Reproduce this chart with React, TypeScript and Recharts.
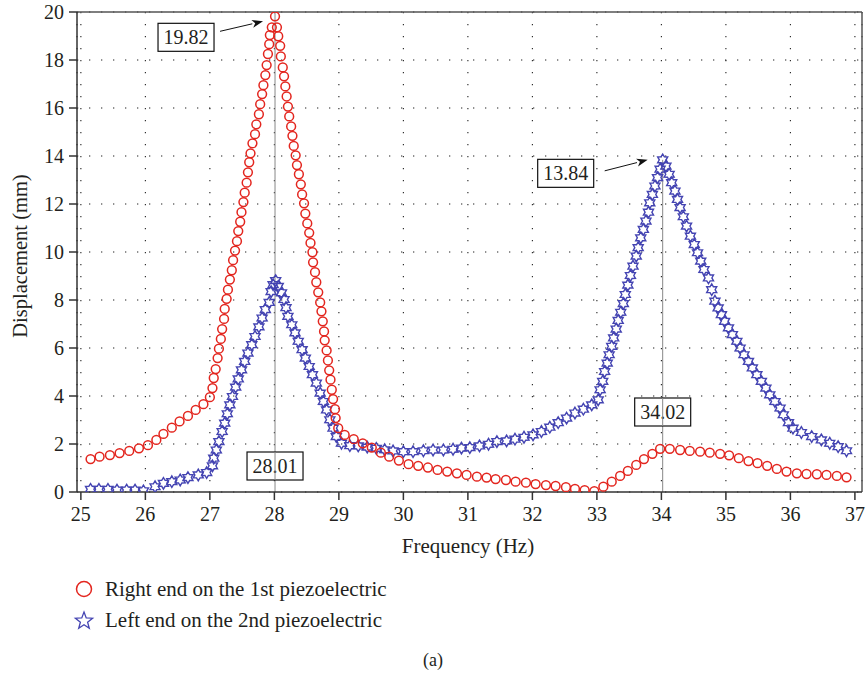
import React from "react";
import {
  CartesianGrid,
  ReferenceDot,
  ReferenceLine,
  Scatter,
  ScatterChart,
  XAxis,
  YAxis,
} from "recharts";

// Right end on the 1st piezoelectric (red circles)
const rightFreq = [
  25.15, 25.29, 25.45, 25.6, 25.75, 25.9, 26.04, 26.17, 26.28, 26.41, 26.53, 26.66, 26.78, 26.9, 27.0,
  27.04, 27.06, 27.09, 27.12, 27.14, 27.17, 27.19, 27.22, 27.23, 27.26, 27.28, 27.31, 27.34, 27.36, 27.39,
  27.42, 27.44, 27.47, 27.49, 27.52, 27.54, 27.57, 27.59, 27.61, 27.63, 27.66, 27.7, 27.72, 27.76, 27.78,
  27.81, 27.83, 27.86, 27.88, 27.9, 27.92, 27.93, 27.96, 28.01, 28.04, 28.06, 28.09, 28.1, 28.13, 28.15,
  28.17, 28.19, 28.21, 28.23, 28.26, 28.28, 28.3, 28.33, 28.35, 28.38, 28.41, 28.43, 28.46, 28.48, 28.51,
  28.54, 28.56, 28.59, 28.6, 28.63, 28.65, 28.68, 28.71, 28.73, 28.75, 28.77, 28.78, 28.81, 28.83, 28.85,
  28.87, 28.89, 28.91, 28.94, 28.95, 28.99, 29.09, 29.23, 29.37, 29.51, 29.65, 29.78, 29.93, 30.08, 30.23,
  30.38, 30.53, 30.68, 30.83, 30.98, 31.14, 31.29, 31.43, 31.59, 31.74, 31.9, 32.05, 32.21, 32.36, 32.52,
  32.66, 32.81, 32.96, 33.1, 33.23, 33.36, 33.48, 33.61, 33.73, 33.86, 33.98, 34.13, 34.29, 34.44, 34.6,
  34.75, 34.91, 35.05, 35.2, 35.35, 35.49, 35.64, 35.79, 35.94, 36.1, 36.25, 36.41, 36.56, 36.72, 36.87,
];
const rightDisp = [
  1.37, 1.47, 1.54, 1.62, 1.71, 1.82, 1.95, 2.17, 2.42, 2.68, 2.94, 3.17, 3.42, 3.66, 3.95,
  4.33, 4.75, 5.12, 5.58, 5.97, 6.38, 6.79, 7.21, 7.63, 8.05, 8.43, 8.85, 9.24, 9.66, 10.06,
  10.45, 10.87, 11.26, 11.66, 12.08, 12.47, 12.89, 13.32, 13.74, 14.11, 14.53, 14.91, 15.32, 15.74, 16.16,
  16.58, 16.95, 17.37, 17.79, 18.25, 18.66, 19.04, 19.36, 19.82, 19.36, 18.99, 18.59, 18.15, 17.69, 17.32,
  16.9, 16.48, 16.06, 15.65, 15.23, 14.84, 14.42, 14.03, 13.62, 13.24, 12.82, 12.4, 12.03, 11.6, 11.19,
  10.8, 10.38, 9.99, 9.57, 9.16, 8.74, 8.32, 7.9, 7.53, 7.11, 6.69, 6.32, 5.9, 5.48, 5.07,
  4.68, 4.26, 3.87, 3.45, 3.08, 2.66, 2.38, 2.2, 2.03, 1.85, 1.64, 1.47, 1.31, 1.16, 1.09,
  1.02, 0.92, 0.85, 0.78, 0.71, 0.64, 0.6, 0.54, 0.5, 0.43, 0.39, 0.33, 0.29, 0.25, 0.2,
  0.13, 0.08, 0.04, 0.22, 0.43, 0.67, 0.88, 1.13, 1.37, 1.59, 1.8, 1.8, 1.75, 1.71, 1.68,
  1.64, 1.59, 1.53, 1.41, 1.29, 1.2, 1.09, 0.96, 0.85, 0.78, 0.75, 0.74, 0.71, 0.67, 0.61,
];

// Left end on the 2nd piezoelectric (blue stars)
const leftFreq = [
  25.15, 25.28, 25.42, 25.56, 25.71, 25.84, 25.97, 26.15, 26.28, 26.41, 26.54, 26.66, 26.82, 26.95, 27.04,
  27.06, 27.1, 27.14, 27.19, 27.23, 27.27, 27.31, 27.35, 27.4, 27.44, 27.49, 27.54, 27.59, 27.65, 27.7,
  27.76, 27.81, 27.86, 27.92, 27.95, 27.98, 28.02, 28.06, 28.11, 28.15, 28.18, 28.21, 28.27, 28.32, 28.37,
  28.43, 28.48, 28.54, 28.59, 28.65, 28.71, 28.76, 28.81, 28.86, 28.91, 28.96, 29.04, 29.17, 29.3, 29.44,
  29.58, 29.71, 29.84, 30.0, 30.15, 30.31, 30.46, 30.62, 30.77, 30.9, 31.03, 31.18, 31.32, 31.45, 31.6,
  31.73, 31.87, 32.01, 32.14, 32.27, 32.4, 32.53, 32.66, 32.79, 32.92, 33.02, 33.05, 33.09, 33.12, 33.16,
  33.19, 33.23, 33.26, 33.3, 33.33, 33.37, 33.41, 33.44, 33.48, 33.52, 33.56, 33.61, 33.64, 33.68, 33.72,
  33.76, 33.8, 33.82, 33.86, 33.9, 33.94, 33.98, 34.02, 34.07, 34.12, 34.16, 34.21, 34.25, 34.29, 34.34,
  34.39, 34.45, 34.51, 34.56, 34.61, 34.66, 34.73, 34.78, 34.83, 34.88, 34.93, 34.98, 35.04, 35.1, 35.17,
  35.22, 35.28, 35.35, 35.41, 35.48, 35.55, 35.62, 35.68, 35.76, 35.84, 35.89, 35.97, 36.04, 36.17, 36.33,
  36.48, 36.61, 36.74, 36.87,
];
const leftDisp = [
  0.11, 0.11, 0.11, 0.08, 0.08, 0.08, 0.05, 0.22, 0.36, 0.43, 0.5, 0.6, 0.71, 0.81, 1.09,
  1.41, 1.75, 2.1, 2.52, 2.87, 3.26, 3.63, 3.98, 4.37, 4.71, 5.09, 5.44, 5.79, 6.14, 6.48,
  6.88, 7.25, 7.6, 7.9, 8.35, 8.64, 8.81, 8.57, 8.3, 8.02, 7.68, 7.32, 6.97, 6.63, 6.28,
  5.93, 5.58, 5.23, 4.89, 4.54, 4.12, 3.77, 3.42, 3.01, 2.66, 2.31, 2.03, 1.93, 1.92, 1.87,
  1.82, 1.76, 1.71, 1.68, 1.68, 1.72, 1.75, 1.75, 1.78, 1.83, 1.85, 1.92, 1.99, 2.1, 2.13,
  2.2, 2.28, 2.38, 2.52, 2.7, 2.89, 3.08, 3.29, 3.45, 3.63, 3.84, 4.26, 4.61, 5.02, 5.37,
  5.72, 6.07, 6.42, 6.79, 7.15, 7.49, 7.85, 8.23, 8.62, 9.02, 9.41, 9.83, 10.18, 10.59, 10.94,
  11.29, 11.66, 12.05, 12.4, 12.75, 13.1, 13.45, 13.84, 13.58, 13.24, 12.89, 12.54, 12.19, 11.85, 11.47,
  11.08, 10.66, 10.31, 9.97, 9.62, 9.27, 8.92, 8.43, 7.95, 7.67, 7.39, 7.11, 6.84, 6.56, 6.28,
  6.0, 5.72, 5.44, 5.17, 4.89, 4.61, 4.33, 4.05, 3.77, 3.5, 3.22, 2.89, 2.66, 2.48, 2.31,
  2.17, 2.03, 1.89, 1.72,
];

const xTicks = [25, 26, 27, 28, 29, 30, 31, 32, 33, 34, 35, 36, 37];
const yTicks = [0, 2, 4, 6, 8, 10, 12, 14, 16, 18, 20];

// marked peaks: frequency, displacement
const peakFreq = [28.01, 34.02];
const peakDisp = [19.82, 13.84];

const rightData = rightFreq.map((x, i) => ({ x, y: rightDisp[i] }));
const leftData = leftFreq.map((x, i) => ({ x, y: leftDisp[i] }));

const RED = "#e3261f";
const BLUE = "#4444b2";
const FONT = "'Liberation Serif', 'Times New Roman', serif";
const INK = "#231f20";

function starPath(cx: number, cy: number, n: number, R: number, r: number) {
  let d = "";
  for (let i = 0; i < n * 2; i++) {
    const a = -Math.PI / 2 + (i * Math.PI) / n;
    const rad = i % 2 === 0 ? R : r;
    d += (i === 0 ? "M" : "L") + (cx + rad * Math.cos(a)).toFixed(2) + "," + (cy + rad * Math.sin(a)).toFixed(2);
  }
  return d + "Z";
}

const Circle = (p: any) => (
  <circle cx={p.cx} cy={p.cy} r={4.4} fill="none" stroke={RED} strokeWidth={1.5} />
);
const Hexagram = (p: any) => (
  <path d={starPath(p.cx, p.cy, 6, 5.8, 3.4)} fill="none" stroke={BLUE} strokeWidth={1.4} />
);

// box with number + arrow pointing at a peak
function PeakLabel(text: string, bx: number, by: number, ax: number, ay: number, ex: number, ey: number) {
  return (p: any) => {
    const cx = p.cx, cy = p.cy;
    const x2 = cx + ex, y2 = cy + ey;
    const x1 = cx + ax, y1 = cy + ay;
    const ang = Math.atan2(y2 - y1, x2 - x1);
    const L = 11, W = 4;
    const hx = x2 - L * Math.cos(ang), hy = y2 - L * Math.sin(ang);
    const head = `M${x2},${y2} L${hx - W * Math.sin(ang)},${hy + W * Math.cos(ang)} L${hx + 3 * Math.cos(ang)},${hy + 3 * Math.sin(ang)} L${hx + W * Math.sin(ang)},${hy - W * Math.cos(ang)} Z`;
    return (
      <g>
        <rect x={cx + bx - 28} y={cy + by - 14} width={56} height={28} fill="#fff" stroke="#111" strokeWidth={1.2} />
        <text x={cx + bx} y={cy + by + 6.8} textAnchor="middle" fontFamily={FONT} fontSize={20} fill={INK}>
          {text}
        </text>
        <line x1={x1} y1={y1} x2={hx} y2={hy} stroke="#111" strokeWidth={1} />
        <path d={head} fill="#111" />
      </g>
    );
  };
}

function BaseLabel(text: string, by: number) {
  return (p: any) => (
    <g>
      <rect x={p.cx - 28} y={p.cy + by - 14} width={56} height={28} fill="#fff" stroke="#111" strokeWidth={1.2} />
      <text x={p.cx} y={p.cy + by + 6.8} textAnchor="middle" fontFamily={FONT} fontSize={20} fill={INK}>
        {text}
      </text>
      <line x1={p.cx} y1={p.cy + by - 14} x2={p.cx} y2={p.cy + by + 14} stroke="#888" strokeWidth={1} />
    </g>
  );
}

export default function App() {
  const tick = { fontFamily: FONT, fontSize: 20, fill: INK };
  return (
    <div style={{ position: "absolute", left: 0, top: 0, width: 866, height: 674, background: "#fff" }}>
      <ScatterChart width={866} height={674} margin={{ top: 12, right: 4, left: 17, bottom: 122 }}>
        <CartesianGrid stroke="#222" strokeDasharray="1.3 10.7" strokeWidth={1.1} />
        <XAxis
          type="number"
          dataKey="x"
          domain={[24.94, 37.11]}
          allowDataOverflow
          ticks={xTicks}
          height={60}
          tick={tick}
          tickSize={8}
          tickMargin={7}
          axisLine={{ stroke: "#333", strokeWidth: 1.5 }}
          tickLine={{ stroke: "#333", strokeWidth: 1.5 }}
        />
        <YAxis
          type="number"
          dataKey="y"
          domain={[0, 20]}
          allowDataOverflow
          ticks={yTicks}
          width={60}
          tick={tick}
          tickSize={8}
          tickMargin={5}
          axisLine={{ stroke: "#333", strokeWidth: 1.5 }}
          tickLine={{ stroke: "#333", strokeWidth: 1.5 }}
        />
        <ReferenceLine y={20} stroke="#555" strokeWidth={1.5} />
        <ReferenceLine x={37.11} stroke="#555" strokeWidth={1.5} />
        <ReferenceLine segment={[{ x: peakFreq[0], y: 0 }, { x: peakFreq[0], y: 20 }]} stroke="#888" strokeWidth={1} />
        <ReferenceLine segment={[{ x: peakFreq[1], y: 0 }, { x: peakFreq[1], y: peakDisp[1] }]} stroke="#888" strokeWidth={1} />
        <Scatter data={leftData} shape={Hexagram} isAnimationActive={false} />
        <Scatter data={rightData} shape={Circle} isAnimationActive={false} />
        <ReferenceDot x={peakFreq[0]} y={peakDisp[0]} r={1} shape={PeakLabel(String(peakDisp[0]), -89, 21, -55, 15, -12, 5)} />
        <ReferenceDot x={peakFreq[1]} y={peakDisp[1]} r={1} shape={PeakLabel(String(peakDisp[1]), -97, 13.5, -58, 11, -15, 0)} />
        <ReferenceDot x={peakFreq[0]} y={0} r={1} shape={BaseLabel(String(peakFreq[0]), -26)} />
        <ReferenceDot x={peakFreq[1]} y={0} r={1} shape={BaseLabel(String(peakFreq[1]), -80)} />
      </ScatterChart>
      <svg width={866} height={674} style={{ position: "absolute", left: 0, top: 0, pointerEvents: "none" }}>
        <text x={468} y={553} textAnchor="middle" fontFamily={FONT} fontSize={21} fill={INK}>
          Frequency (Hz)
        </text>
        <text
          transform="translate(27,256) rotate(-90)"
          textAnchor="middle"
          fontFamily={FONT}
          fontSize={20.5}
          fill={INK}
        >
          Displacement (mm)
        </text>
        <circle cx={84} cy={589} r={7.5} fill="none" stroke={RED} strokeWidth={1.5} />
        <text x={105} y={596} fontFamily={FONT} fontSize={21} fill={INK}>
          Right end on the 1st piezoelectric
        </text>
        <path d={starPath(84, 621, 5, 9, 3.8)} fill="none" stroke={BLUE} strokeWidth={1.3} />
        <text x={105} y={627} fontFamily={FONT} fontSize={21} fill={INK}>
          Left end on the 2nd piezoelectric
        </text>
        <text x={433} y={666} textAnchor="middle" fontFamily={FONT} fontSize={18} fill={INK}>
          (a)
        </text>
      </svg>
    </div>
  );
}
